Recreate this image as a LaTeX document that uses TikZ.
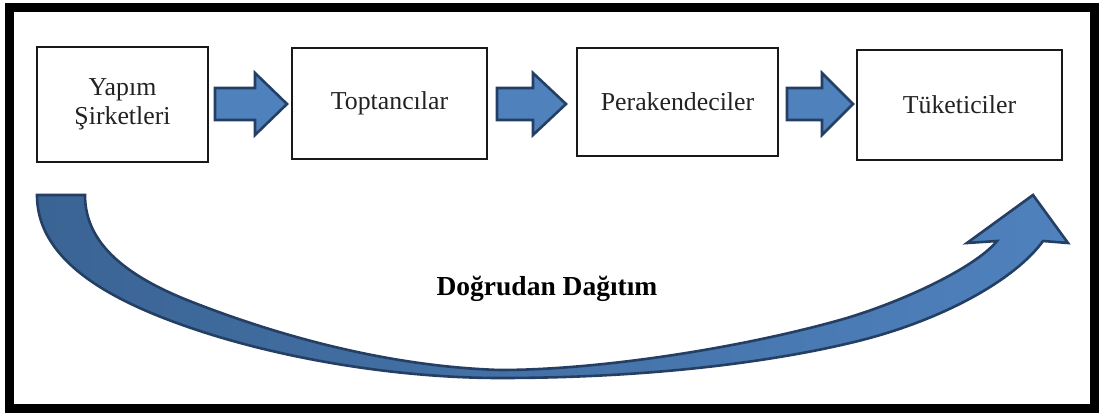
\documentclass[tikz,border=0pt]{standalone}
\usepackage{fontspec}
\setmainfont{Liberation Serif}
\definecolor{arrfill}{HTML}{4F81BD}
\definecolor{arrfilldark}{HTML}{3A6494}
\definecolor{arrline}{HTML}{243F63}
\definecolor{txt}{HTML}{222222}
\tikzset{
  box/.style={draw=black!90, line width=2.4pt, fill=white, text=txt, inner sep=0pt,
    font=\fontsize{25.8}{29.5}\selectfont, align=center},
  blockarr/.style={fill=arrfill, draw=arrline, line width=2.6pt, line join=miter},
  curvearr/.style={left color=arrfilldark, right color=arrfill, draw=arrline, line width=2.6pt, line join=miter},
  frame/.style={draw=black, line width=9pt},
}
\begin{document}
\begin{tikzpicture}[x=1pt,y=-1pt]
\useasboundingbox (0,0) rectangle (1099,414);
\fill[white] (0,0) rectangle (1099,414);
\draw[frame] (9,7.5) rectangle (1094.5,408.5);

\node[box, minimum width=171pt, minimum height=115pt] (b1) at (122.5,104.5) {Yapım\\Şirketleri};
\node[box, minimum width=195pt, minimum height=111pt] (b2) at (389.5,103.5) {Toptancılar};
\node[box, minimum width=201pt, minimum height=108pt] (b3) at (677.5,102) {Perakendeciler};
\node[box, minimum width=205pt, minimum height=110pt] (b4) at (959.5,105) {Tüketiciler};

% block arrows between boxes
\draw[blockarr] (215,88) -- (255,88) -- (255,73) -- (287,104) -- (255,135) -- (255,120) -- (215,120) -- cycle;
\draw[blockarr] (497,88) -- (533,88) -- (533,73) -- (566,104) -- (533,135) -- (533,120) -- (497,120) -- cycle;
\draw[blockarr] (787,88) -- (822,88) -- (822,73) -- (853,104) -- (822,135) -- (822,120) -- (787,120) -- cycle;

% curved direct-distribution arrow
\coordinate (tailL) at (37,195);
\coordinate (tailR) at (85,195);
\coordinate (tip) at (1033,195);
\path[curvearr] (tailL)
  .. controls (37,265) and (120,305) .. (203,332)
  .. controls (290,360) and (400,378) .. (500,378)
  .. controls (650,378) and (770,362) .. (850,343)
  .. controls (940,322) and (1015,280) .. (1043,241)
  -- (1068,243) -- (tip) -- (967,243) -- (997,241)
  .. controls (975,268) and (900,303) .. (840,320)
  .. controls (740,348) and (600,370) .. (500,370)
  .. controls (370,366) and (250,325) .. (187,300)
  .. controls (120,273) and (85,240) .. (tailR)
  -- cycle;

\node[font=\fontsize{27.5}{31}\selectfont\bfseries, text=black, anchor=base, inner sep=0pt] (lbl) at (547,295) {Doğrudan Dağıtım};
\end{tikzpicture}
\end{document}
